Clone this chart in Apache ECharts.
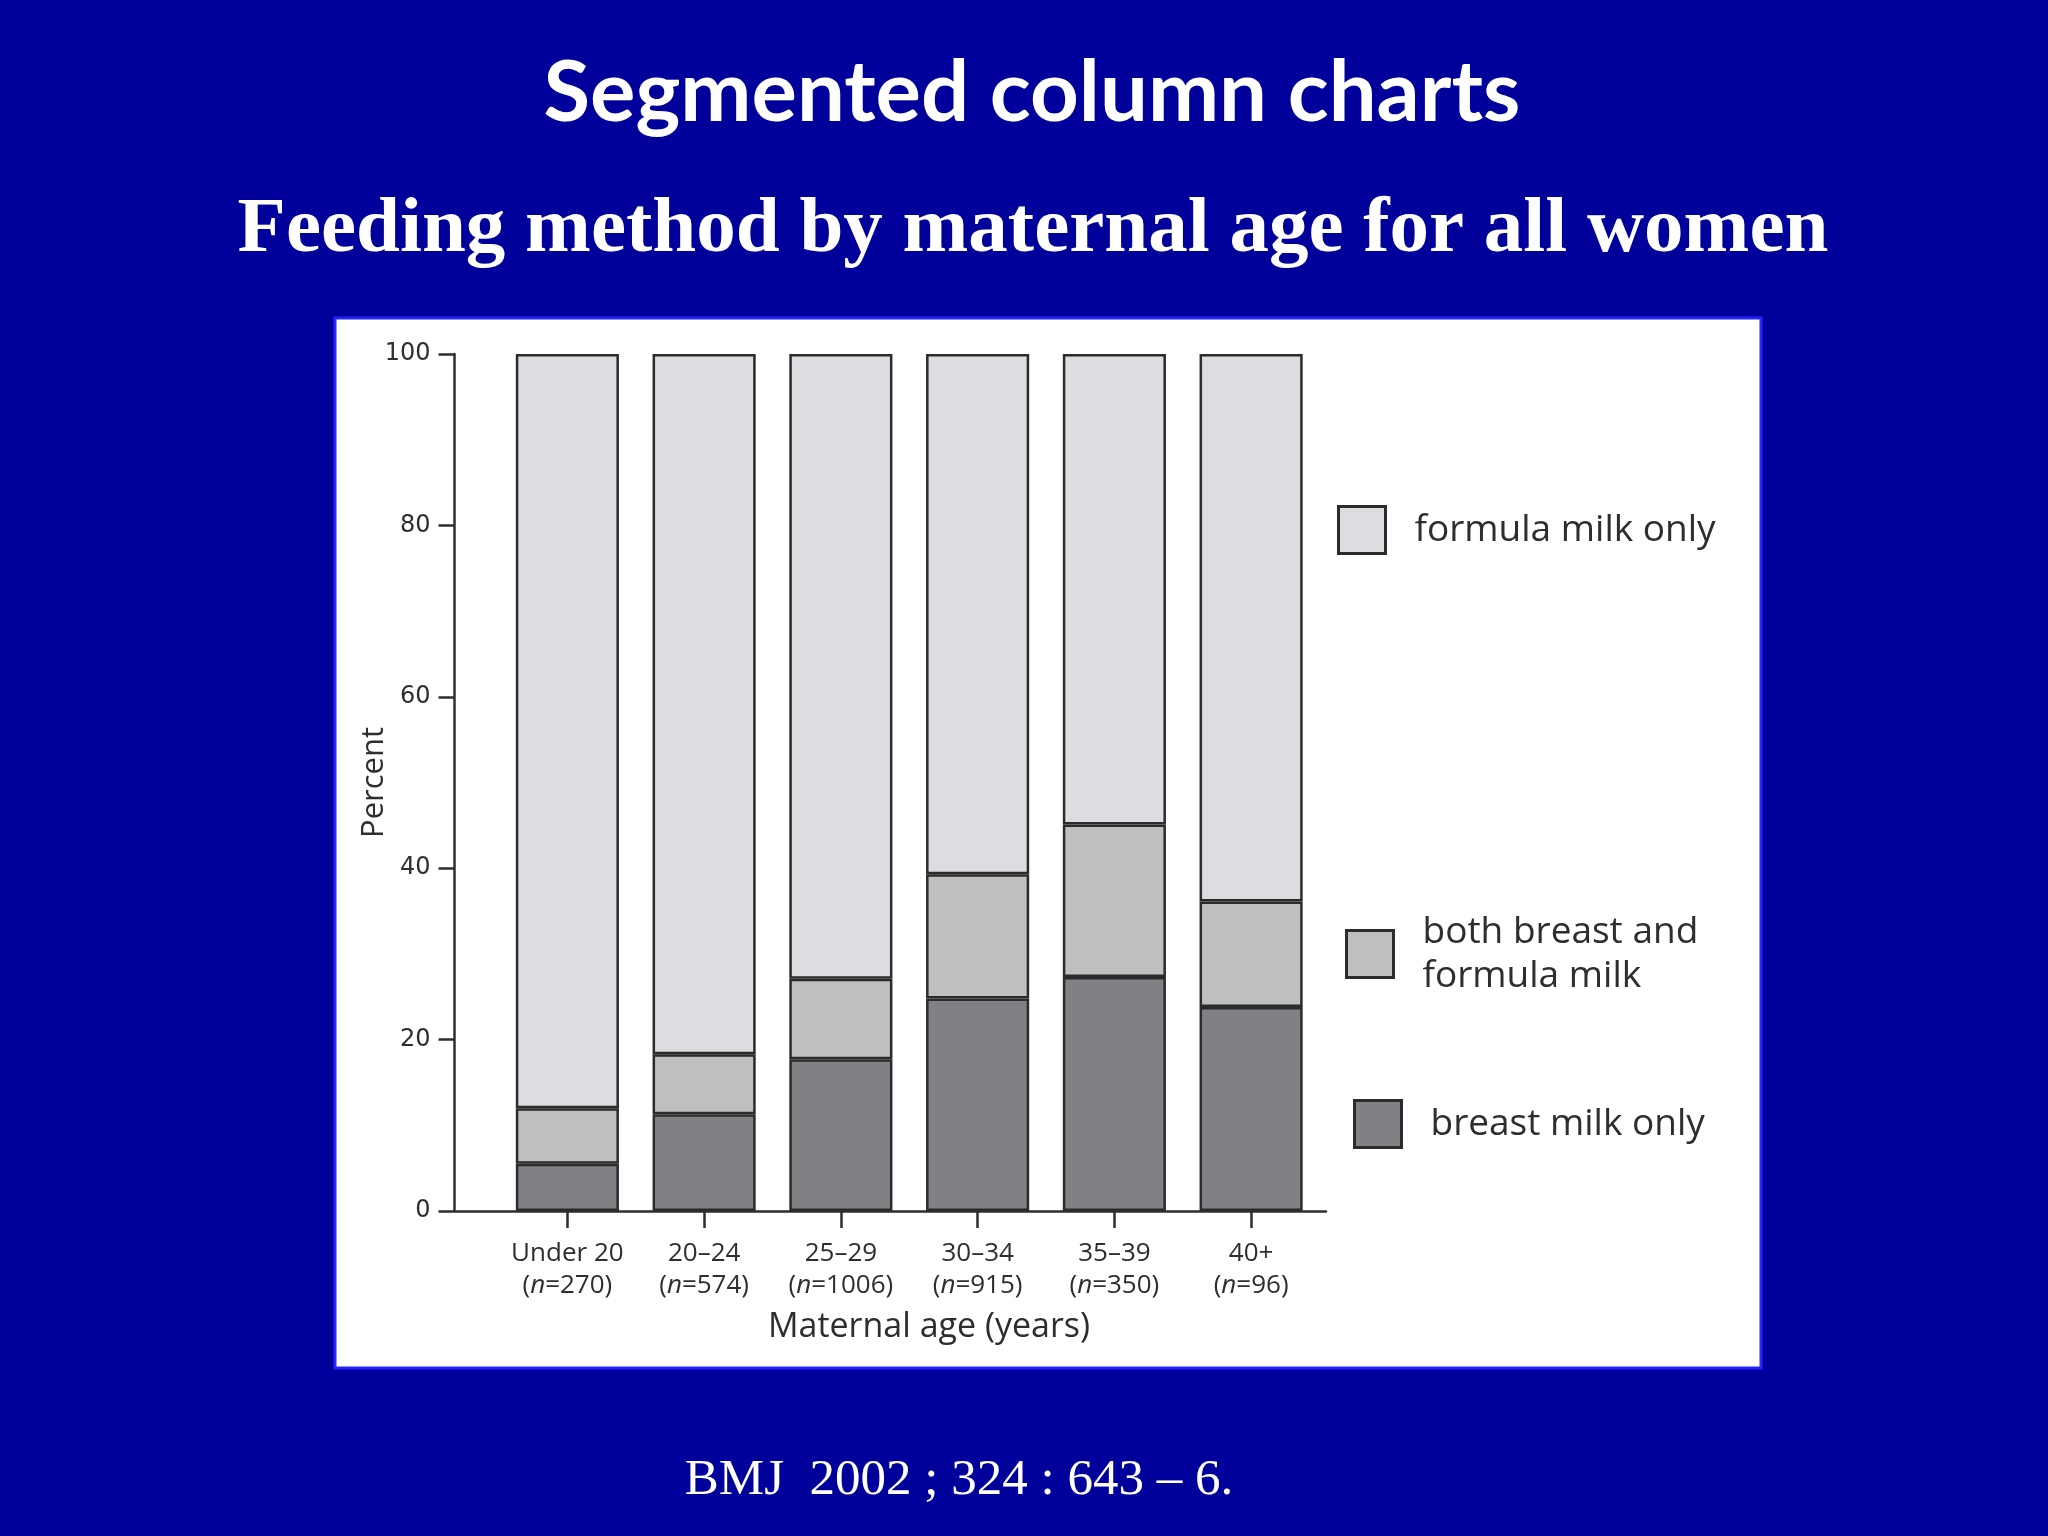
<!DOCTYPE html>
<html>
<head>
<meta charset="utf-8">
<script src="https://cdn.jsdelivr.net/npm/echarts@6/dist/echarts.min.js"></script>
<style>
html,body{margin:0;padding:0;background:#00009a;}
#c{width:2048px;height:1536px;}
</style>
</head>
<body>
<div id="c"></div>
<script>
const categories = ['Under 20', '20\u201324', '25\u201329', '30\u201334', '35\u201339', '40+'];
const sampleSizes = [270, 574, 1006, 915, 350, 96];
const breastOnly = [5.5, 11.3, 17.7, 24.8, 27.3, 23.8];
const bothMilk = [6.5, 7.0, 9.4, 14.5, 17.8, 12.3];
const formulaOnly = [88.0, 81.7, 72.9, 60.7, 54.9, 63.9];
const yTicks = [0, 20, 40, 60, 80, 100];
const seriesNames = ['formula milk only', 'both breast and\nformula milk', 'breast milk only'];

const chart = echarts.init(document.getElementById('c'));
const ink = '#2e2e2e';
const txtFont = '"Open Sans", sans-serif';
const border = {borderColor: '#2b2b2b', borderWidth: 2.5};

function legendAt(name, left, top) {
  return {
    data: [name], left: left, top: top, padding: 0, orient: 'vertical',
    itemWidth: 47, itemHeight: 47, icon: 'rect', selectedMode: false,
    itemStyle: {borderColor: '#2b2b2b', borderWidth: 3},
    textStyle: {fontFamily: txtFont, fontSize: 37, color: ink, lineHeight: 44, padding: [0, 0, 0, 24]}
  };
}

const option = {
  backgroundColor: '#00009a',
  animation: false,
  graphic: [{
    type: 'rect', z: -10, silent: true,
    shape: {x: 335, y: 318, width: 1426, height: 1050},
    style: {fill: '#ffffff', stroke: '#2424ff', lineWidth: 3}
  }],
  title: [
    {text: 'Segmented column charts', left: 1032, top: 94, padding: 0, textAlign: 'center', textVerticalAlign: 'middle',
     textStyle: {color: '#fff', fontFamily: 'Lato, "Open Sans", sans-serif', fontWeight: 'bold', fontSize: 85}},
    {text: 'Feeding method by maternal age for all women', left: 1033, top: 231, padding: 0, textAlign: 'center', textVerticalAlign: 'middle',
     textStyle: {color: '#fff', fontFamily: '"Liberation Serif", "Times New Roman", serif', fontWeight: 'bold', fontSize: 79}},
    {text: 'BMJ  2002 ; 324 : 643 \u2013 6.', left: 959, top: 1481, padding: 0, textAlign: 'center', textVerticalAlign: 'middle',
     textStyle: {color: '#fff', fontFamily: '"Liberation Serif", "Times New Roman", serif', fontWeight: 'normal', fontSize: 51}},
    {text: 'Maternal age (years)', left: 929, top: 1327, padding: 0, textAlign: 'center', textVerticalAlign: 'middle',
     textStyle: {color: ink, fontFamily: txtFont, fontWeight: 'normal', fontSize: 34}}
  ],
  legend: [
    legendAt(seriesNames[0], 1337, 505),
    legendAt(seriesNames[1], 1345, 910),
    legendAt(seriesNames[2], 1353, 1099)
  ],
  grid: [
    {left: 499, width: 820.5, top: 354, height: 857},
    {left: 454.5, width: 871.5, top: 354, height: 857}
  ],
  xAxis: [
    {
      type: 'category', gridIndex: 0, data: categories,
      axisLine: {show: false},
      axisTick: {show: true, alignWithLabel: true, length: 17, lineStyle: {color: ink, width: 2.5}},
      axisLabel: {
        interval: 0, margin: 27, color: ink, fontFamily: txtFont,
        formatter: function (v, i) {
          return '{a|' + v + '}\n{b|(}{i|n}{b|=' + sampleSizes[i] + ')}';
        },
        rich: {
          a: {fontSize: 26, lineHeight: 32, color: ink, fontFamily: txtFont},
          b: {fontSize: 26, lineHeight: 32, color: ink, fontFamily: txtFont},
          i: {fontSize: 26, lineHeight: 32, color: ink, fontFamily: txtFont, fontStyle: 'italic'}
        }
      },
      splitLine: {show: false}
    },
    {
      type: 'value', gridIndex: 1, min: 0, max: 1,
      axisLine: {show: true, lineStyle: {color: ink, width: 2.5}},
      axisTick: {show: false}, axisLabel: {show: false}, splitLine: {show: false}
    }
  ],
  yAxis: [
    {type: 'value', gridIndex: 0, min: 0, max: 100, show: false, splitLine: {show: false}},
    {
      type: 'value', gridIndex: 1, min: 0, max: 100, interval: 20,
      name: 'Percent', nameLocation: 'middle', nameGap: 65, nameMoveOverlap: false,
      nameTextStyle: {color: ink, fontFamily: txtFont, fontSize: 31},
      axisLine: {show: true, lineStyle: {color: ink, width: 2.5}},
      axisTick: {show: true, length: 16, lineStyle: {color: ink, width: 2.5}},
      axisLabel: {margin: 24, color: ink, fontFamily: '"DejaVu Sans", sans-serif', fontSize: 24,
        customValues: yTicks},
      splitLine: {show: false}
    }
  ],
  series: [
    {name: seriesNames[2], type: 'bar', stack: 'f', xAxisIndex: 0, yAxisIndex: 0, data: breastOnly,
     barCategoryGap: '24.6%', itemStyle: Object.assign({color: '#808184'}, border)},
    {name: seriesNames[1], type: 'bar', stack: 'f', xAxisIndex: 0, yAxisIndex: 0, data: bothMilk,
     barCategoryGap: '24.6%', itemStyle: Object.assign({color: '#bfbfc0'}, border)},
    {name: seriesNames[0], type: 'bar', stack: 'f', xAxisIndex: 0, yAxisIndex: 0, data: formulaOnly,
     barCategoryGap: '24.6%', itemStyle: Object.assign({color: '#dcdde0'}, border)}
  ]
};
chart.setOption(option);
</script>
</body>
</html>
